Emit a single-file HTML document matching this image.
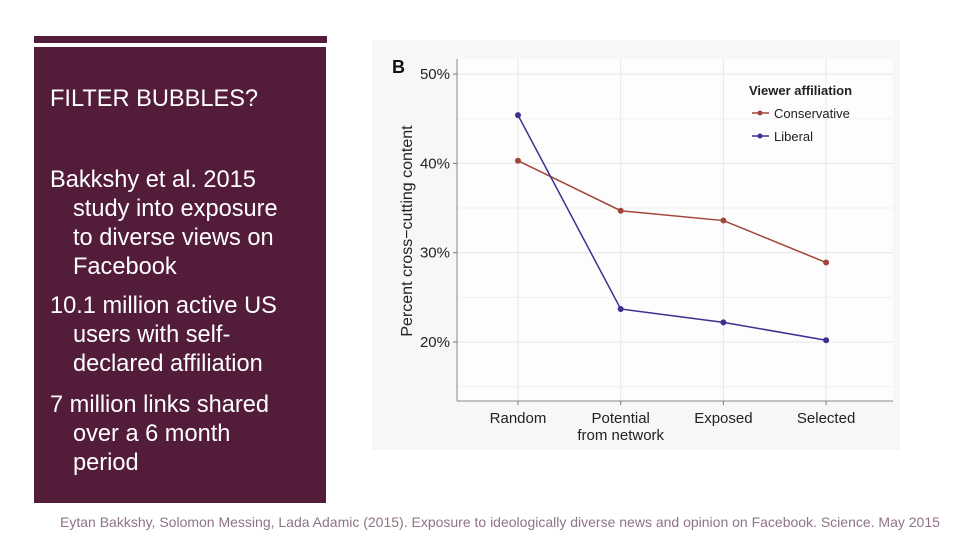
<!DOCTYPE html>
<html><head><meta charset="utf-8"><style>
body{margin:0;width:960px;height:540px;background:#fff;position:relative;overflow:hidden;font-family:"Liberation Sans",sans-serif}
.l{position:absolute;color:#fff;font-size:23.6px;white-space:nowrap;line-height:1}
</style></head><body>
<div style="position:absolute;left:34px;top:36px;width:293px;height:7px;background:#521c3a"></div>
<div style="position:absolute;left:34px;top:47px;width:292px;height:456px;background:#521c3a"></div>
<div class="l" style="left:50px;top:88px">FILTER BUBBLES?</div>
<div>
<div class="l" style="left:50px;top:169px">Bakkshy et al. 2015</div>
<div class="l" style="left:73px;top:198px">study into exposure</div>
<div class="l" style="left:73px;top:227px">to diverse views on</div>
<div class="l" style="left:73px;top:256px">Facebook</div></div>
<div>
<div class="l" style="left:50px;top:295px">10.1 million active US</div>
<div class="l" style="left:73px;top:324px">users with self-</div>
<div class="l" style="left:73px;top:353px">declared affiliation</div></div>
<div>
<div class="l" style="left:50px;top:394px">7 million links shared</div>
<div class="l" style="left:73px;top:423px">over a 6 month</div>
<div class="l" style="left:73px;top:452px">period</div></div>
<div style="position:absolute;left:60px;top:514px;font-size:14px;color:#8f7488;white-space:nowrap">Eytan Bakkshy, Solomon Messing, Lada Adamic (2015). Exposure to ideologically diverse news and opinion on Facebook. Science. May 2015</div>
<svg id="chart" width="960" height="540" style="position:absolute;left:0;top:0" font-family="Liberation Sans, sans-serif"></svg>
<script>
const categories=["Random","Potential|from network","Exposed","Selected"];
const conservative=[40.3,34.7,33.6,28.9];
const liberal=[45.4,23.7,22.2,20.2];
const yTicks=[20,30,40,50];
const yTickLabels=["20%","30%","40%","50%"];
const NS="http://www.w3.org/2000/svg";
const svg=document.getElementById('chart');
function y(v){return 342-(v-20)*8.93;}
function x(i){return 518+i*102.7;}
function mk(t,a,p){const e=document.createElementNS(NS,t);for(const k in a)e.setAttribute(k,a[k]);(p||svg).appendChild(e);return e;}
const bg=mk('rect',{x:372,y:40,width:528,height:410,fill:'#f7f7f7'});


const panel=mk('rect',{x:457,y:59,width:436,height:342,fill:'#fdfdfd'});


for(let v=15;v<=50;v+=5){const g=mk('line',{x1:457,x2:893,y1:y(v),y2:y(v),stroke:v%10?'#f0f0f0':'#e6e6e6','stroke-width':1});

}
categories.forEach((c,i)=>{const g=mk('line',{x1:x(i),x2:x(i),y1:59,y2:401,stroke:'#e8e8e8'});


const t=mk('line',{x1:x(i),x2:x(i),y1:401,y2:405,stroke:'#777'});


const parts=c.split('|');
parts.forEach((p,j)=>{const tx=mk('text',{x:x(i),y:423+j*17,'text-anchor':'middle','font-size':15,fill:'#222'});tx.textContent=p;

});});
mk('line',{x1:457,x2:457,y1:59,y2:401,stroke:'#888'});
mk('line',{x1:457,x2:893,y1:401,y2:401,stroke:'#888'});
yTicks.forEach((v,i)=>{const t=mk('line',{x1:453,x2:457,y1:y(v),y2:y(v),stroke:'#777'});


const tx=mk('text',{x:450,y:y(v)+5,'text-anchor':'end','font-size':15,fill:'#222'});tx.textContent=yTickLabels[i];

});
const yl=mk('text',{x:0,y:0,transform:'translate(412,231) rotate(-90)','text-anchor':'middle','font-size':16,fill:'#222'});yl.textContent='Percent cross\u2212cutting content';


const b=mk('text',{x:392,y:73,'font-size':18,'font-weight':'bold',fill:'#111'});b.textContent='B';


function series(vals,col,name){const l=mk('polyline',{points:vals.map((v,i)=>x(i)+','+y(v)).join(' '),fill:'none',stroke:col,'stroke-width':1.5});


vals.forEach((v,i)=>{const c=mk('circle',{cx:x(i),cy:y(v),r:3,fill:col});

});}
series(conservative,'#a2453a','conservative');
series(liberal,'#3b3190','liberal');
const lt=mk('text',{x:749,y:95,'font-size':13,'font-weight':'bold',fill:'#222'});lt.textContent='Viewer affiliation';


[['Conservative','#a2453a',113],['Liberal','#3b3190',136]].forEach(([n,c,yy])=>{
const g=mk('g',{});


mk('line',{x1:752,x2:769,y1:yy,y2:yy,stroke:c,'stroke-width':1.5},g);
mk('circle',{cx:760,cy:yy,r:2.5,fill:c},g);
const t=mk('text',{x:774,y:yy+5,'font-size':13,fill:'#222'},g);t.textContent=n;});
</script>
</body></html>
